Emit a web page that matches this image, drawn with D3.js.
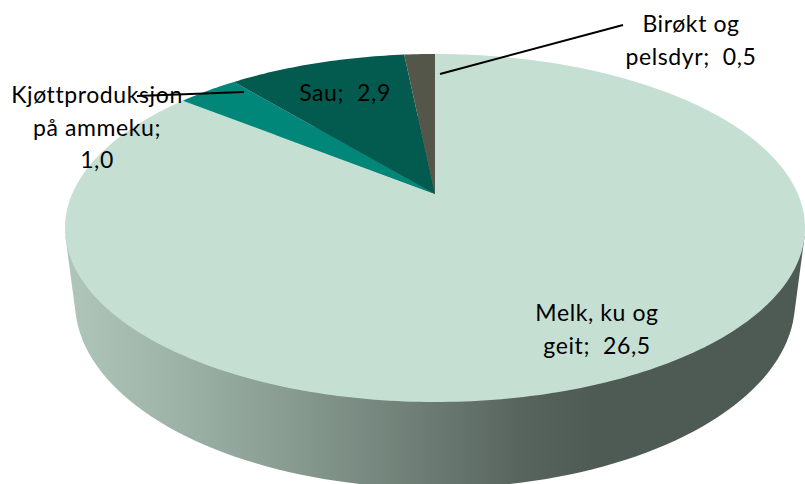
<!DOCTYPE html>
<html>
<head>
<meta charset="utf-8">
<script src="https://cdn.jsdelivr.net/npm/d3@7"></script>
<style>
  html, body { margin: 0; padding: 0; background: #fff; }
  svg { display: block; }
  text { font-family: Lato, "Open Sans", sans-serif; font-size: 23px; letter-spacing: 0.6px; fill: #000; text-anchor: middle; white-space: pre; }
</style>
</head>
<body>
<svg id="plot" width="805" height="484"></svg>
<script>
var categories = ["Melk, ku og geit", "Kjøttproduksjon på ammeku", "Sau", "Birøkt og pelsdyr"];
var values = [26.5, 1.0, 2.9, 0.5];
var colors = ["#c5dfd3", "#00877a", "#035a4e", "#55564a"];
var labelLines = [
  ["Melk, ku og", "geit;  26,5"],
  ["Kjøttproduksjon", "på ammeku;", "1,0"],
  ["Sau;  2,9"],
  ["Birøkt og", "pelsdyr;  0,5"]
];

var svg = d3.select("#plot");

// top of the disc is seen in perspective: circle -> ellipse with the apex above its middle
var cx = 435, apexY = 194, topY = 54, botY = 402, rimX = 370;
var persp = (2 * apexY - topY - botY) / (botY - topY);
var a = botY * (1 + persp) - apexY;
var xScale = rimX * Math.sqrt(1 - persp * persp);

function project(angle, r) {
  var u = r * Math.sin(angle), v = -r * Math.cos(angle);
  var w = 1 + persp * v;
  return [cx + xScale * u / w, (a * v + apexY) / w];
}

var line = d3.line();
var pie = d3.pie().sort(null).value(function(d) { return d; });
var arcs = pie(values);

function wedge(d) {
  var n = Math.max(4, Math.ceil((d.endAngle - d.startAngle) * 60));
  var pts = d3.range(n + 1).map(function(i) {
    return project(d.startAngle + (d.endAngle - d.startAngle) * i / n, 1);
  });
  pts.push(project(0, 0));
  return line(pts) + "Z";
}

// side wall: hull of the lower rim and the smaller ellipse below it
// upper rim left out so the wall does not show along the edge of the top
var rimPts = d3.range(360).map(function(i) { return project(i / 360 * 2 * Math.PI, 1); })
  .filter(function(p) { return p[1] >= 236; });
var basePts = d3.range(180).map(function(i) {
  var t = i / 180 * 2 * Math.PI;
  return [cx + 360 * Math.cos(t), 302 + 186 * Math.sin(t)];
});

var grad = svg.append("defs").append("linearGradient")
  .attr("id", "wall")
  .attr("gradientUnits", "userSpaceOnUse")
  .attr("x1", 65).attr("x2", 805).attr("y1", 0).attr("y2", 0);
[[0, "#b0c6ba"], [0.12, "#a2b7ac"], [0.3, "#889c91"], [0.45, "#72837a"], [0.62, "#57645d"], [0.72, "#4e5a54"], [1, "#4e5a54"]]
  .forEach(function(s) {
    grad.append("stop").attr("offset", s[0]).attr("stop-color", s[1]);
  });

svg.append("path")
  .attr("d", line(d3.polygonHull(rimPts.concat(basePts))) + "Z")
  .attr("fill", "url(#wall)");

svg.selectAll("path.slice")
  .data(arcs)
  .enter()
  .append("path")
  .attr("class", "slice")
  .attr("d", wedge)
  .attr("fill", function(d, i) { return colors[i]; });

// leader lines
var leaders = [[[440, 74], [623, 25]], [[244, 92], [137, 96]]];
svg.selectAll("path.leader")
  .data(leaders)
  .enter()
  .append("path")
  .attr("class", "leader")
  .attr("d", function(d) { return line(d); })
  .attr("stroke", "#000")
  .attr("stroke-width", 2)
  .attr("fill", "none");

// label anchors: centre x and first baseline, same order as categories
var labelPos = [[597, 321], [97, 103], [345, 101], [691, 32]];
labelLines.forEach(function(lines, i) {
  svg.append("g").selectAll("text")
    .data(lines)
    .enter()
    .append("text")
    .attr("x", labelPos[i][0])
    .attr("y", function(d, j) { return labelPos[i][1] + j * 32.5; })
    .text(function(d) { return d; });
});
</script>
</body>
</html>
